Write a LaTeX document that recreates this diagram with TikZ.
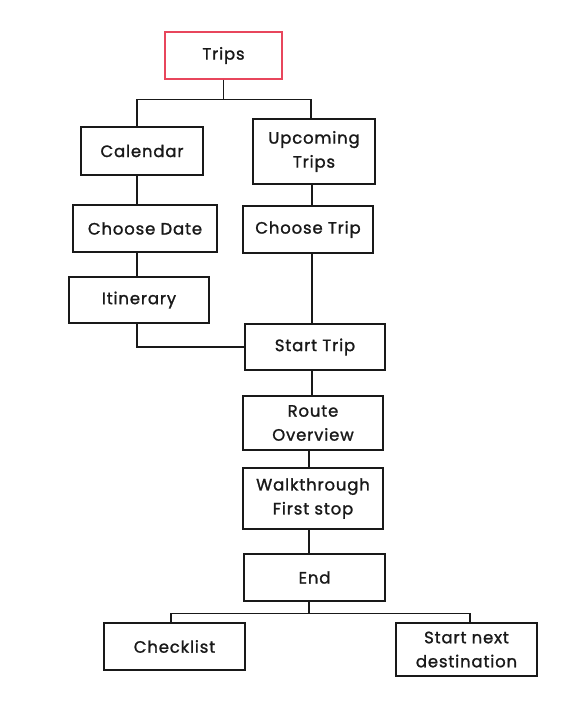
\documentclass[tikz,border=0pt]{standalone}
\usepackage{fontspec}
\setmainfont[LetterSpace=5,FakeBold=1.3]{Poppins}
\definecolor{tripred}{RGB}{232,70,92}
\definecolor{ink}{RGB}{25,25,25}
\begin{document}
\begin{tikzpicture}[x=1pt,y=-1pt,
  box/.style={draw=ink,line width=1.4pt,rectangle,align=center,inner sep=0pt,
    font=\fontsize{16.5}{24}\selectfont,text=ink},
  link/.style={draw=ink,line width=1.4pt}]
\useasboundingbox[fill=white] (0,0) rectangle (570,704);
\node[box,draw=tripred,minimum width=117,minimum height=47] (trips) at (223.5,55.5) {Trips};
\node[box,minimum width=122,minimum height=48] (cal) at (142,151) {Calendar};
\node[box,minimum width=122,minimum height=65] (up) at (314,151.5) {Upcoming\\Trips};
\node[box,minimum width=144,minimum height=47] (cd) at (145,228.5) {Choose Date};
\node[box,minimum width=130,minimum height=47] (ct) at (308,229.5) {Choose Trip};
\node[box,minimum width=140,minimum height=46] (it) at (139,300) {Itinerary};
\node[box,minimum width=140,minimum height=46] (st) at (315,347) {Start Trip};
\node[box,minimum width=140,minimum height=54] (ro) at (313,423) {Route\\Overview};
\node[box,minimum width=140,minimum height=61] (wt) at (313,498.5) {Walkthrough\\First stop};
\node[box,minimum width=141,minimum height=47] (end) at (314.5,577.5) {End};
\node[box,minimum width=141,minimum height=47] (chk) at (174.5,646.5) {Checklist};
\node[box,minimum width=141,minimum height=53] (snd) at (466.5,649.5) {Start next\\destination};
\coordinate (j1) at ([yshift=-20]trips.south);
\coordinate (j2) at ([yshift=-12]end.south);
\draw[link] (trips.south) -- (j1);
\draw[link] (j1) -| ([xshift=-5]cal.north);
\draw[link] (j1) -| ([xshift=-3]up.north);
\draw[link] ([xshift=-5]cal.south) -- ([xshift=-5]cal.south |- cd.north);
\draw[link] ([xshift=-8]cd.south) -- ([xshift=-8]cd.south |- it.north);
\draw[link] ([xshift=-2]it.south) |- (st.west);
\draw[link] ([xshift=-2]up.south) -- ([xshift=-2]up.south |- ct.north);
\draw[link] ([xshift=4]ct.south) -- ([xshift=4]ct.south |- st.north);
\draw[link] ([xshift=-3]st.south) -- ([xshift=-3]st.south |- ro.north);
\draw[link] ([xshift=-4]ro.south) -- ([xshift=-4]ro.south |- wt.north);
\draw[link] ([xshift=-4]wt.south) -- ([xshift=-4]wt.south |- end.north);
\draw[link] ([xshift=-5.5]end.south) -- ([xshift=-5.5]j2);
\draw[link] ([xshift=-5.5]j2) -| ([xshift=-3.5]chk.north);
\draw[link] ([xshift=-5.5]j2) -| ([xshift=3.5]snd.north);
\end{tikzpicture}
\end{document}
